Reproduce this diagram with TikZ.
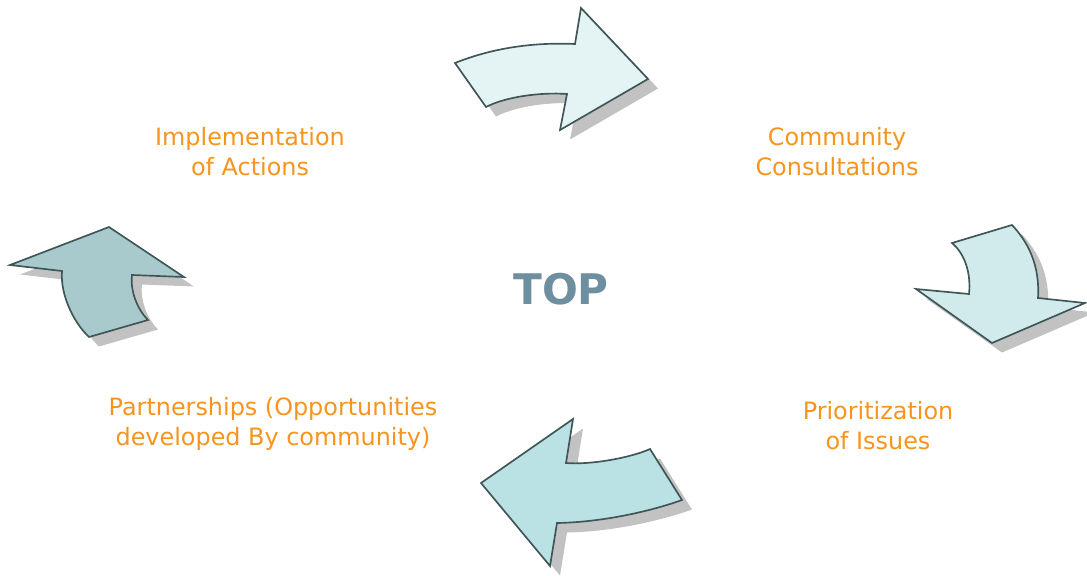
\documentclass[tikz,border=0pt]{standalone}
\usepackage{fontspec}
\setmainfont{DejaVu Sans}
\usepackage{tikz}
\usetikzlibrary{shadows}

\definecolor{labelorange}{HTML}{F7941E}
\definecolor{topblue}{HTML}{6D8FA0}
\definecolor{edgegray}{HTML}{3F5556}
\definecolor{fillone}{HTML}{E4F4F4}
\definecolor{filltwo}{HTML}{D1EBEC}
\definecolor{fillthree}{HTML}{BAE1E4}
\definecolor{fillfour}{HTML}{A8CACC}

\begin{document}
\begin{tikzpicture}[x=0.02cm,y=-0.02cm,
        cyclearrow/.style={draw=edgegray, line width=0.95pt, line join=miter,
            drop shadow={shadow xshift=0.2cm, shadow yshift=-0.19cm, fill=black, opacity=0.24}},
        steplabel/.style={text=labelorange, align=center, font=\fontsize{13.6}{17}\selectfont}]
            \useasboundingbox (0,0) rectangle (1087,575);

            % arrows of the cycle
            \path[cyclearrow, fill=fillone] (455,63) .. controls (490,49) and (530,42) .. (575,44)
                -- (581,8) -- (648,79) -- (560,130) -- (567,94)
                .. controls (540,92) and (505,97) .. (486,107) -- cycle;
            \path[cyclearrow, fill=filltwo] (952,243) -- (1012,225)
                .. controls (1028,242) and (1040,265) .. (1038,298)
                -- (1085,303) -- (992,343) -- (916,289) -- (969,294)
                .. controls (971,275) and (966,255) .. (952,243) -- cycle;
            \path[cyclearrow, fill=fillthree] (481,483) -- (573,419) -- (566,463)
                .. controls (590,465) and (630,458) .. (650,449) -- (682,500)
                .. controls (660,508) and (610,522) .. (557,523) -- (550,566) -- cycle;
            \path[cyclearrow, fill=fillfour] (109,227) -- (184,277) -- (132,275)
                .. controls (130,292) and (138,310) .. (148,320) -- (89,337)
                .. controls (74,323) and (60,295) .. (62,271) -- (10,265) -- cycle;

            % labels
            \node[steplabel](implement) at (250,152) {Implementation\\of Actions};
            \node[steplabel](consult) at (837,152) {Community\\Consultations};
            \node[steplabel](priority) at (878,426) {Prioritization\\of Issues};
            \node[steplabel](partner) at (273,424) {Partnerships (Opportunities\\developed By community)};
            \node[text=topblue, font=\fontsize{24}{29}\selectfont\bfseries](top) at (561,289) {TOP};
        \end{tikzpicture}
\end{document}
